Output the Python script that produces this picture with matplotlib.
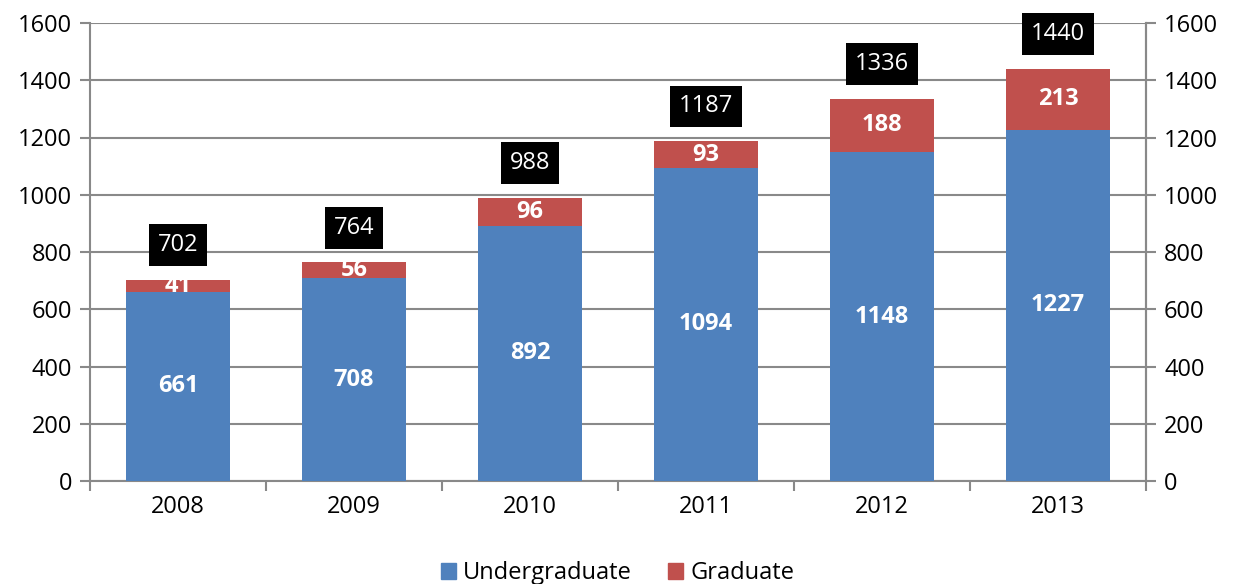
import numpy as np
import matplotlib.pyplot as plt
from matplotlib.patches import Patch

# Dane
years = ['2008', '2009', '2010', '2011', '2012', '2013']
undergrad = [661, 708, 892, 1094, 1148, 1227]
grad = [41, 56, 96, 93, 188, 213]
totals = [702, 764, 988, 1187, 1336, 1440]

blue = '#4F81BD'
red = '#C0504D'
gray = '#898989'
fs = 17

plt.rcParams['font.family'] = ['Open Sans', 'DejaVu Sans']

fig = plt.figure(figsize=(12.35, 5.84), dpi=100)
ax = fig.add_axes([90 / 1235, 103 / 584, 1056 / 1235, 458 / 584])

x = np.arange(len(years))
w = 0.59
ax.bar(x, undergrad, w, color=blue, zorder=3)
ax.bar(x, grad, w, bottom=undergrad, color=red, zorder=3)

for i in range(len(years)):
    ax.text(x[i], undergrad[i] / 2, str(undergrad[i]), ha='center', va='center',
            color='white', fontsize=fs, fontweight='bold', zorder=4)
    ax.text(x[i], undergrad[i] + grad[i] / 2, str(grad[i]), ha='center', va='center',
            color='white', fontsize=fs, fontweight='bold', zorder=4)
    ax.annotate(str(totals[i]), (x[i], totals[i]), xytext=(0, 25), textcoords='offset points',
                ha='center', va='center', color='white', fontsize=fs, zorder=5,
                bbox=dict(boxstyle='square,pad=0.38', fc='black', ec='none'))

ax.set_xlim(-0.5, len(years) - 0.5)
ax.set_ylim(0, 1600)
ax.set_yticks(range(0, 1601, 200))
ax.yaxis.grid(True, color=gray, linewidth=1.5, zorder=0)
ax.set_xticks(x)
ax.set_xticklabels(years, fontsize=fs)
ax.set_xticks(np.arange(-0.5, len(years)), minor=True)
ax.tick_params(axis='x', which='major', length=0, pad=10)
ax.tick_params(axis='x', which='minor', length=7, width=1.5, color=gray)
ax.tick_params(axis='y', length=7, width=1.5, color=gray, labelsize=fs, pad=6)
ax.spines['top'].set_visible(False)
for s in ['left', 'right', 'bottom']:
    ax.spines[s].set_color(gray)
    ax.spines[s].set_linewidth(1.5)

ax2 = ax.twinx()
ax2.set_ylim(0, 1600)
ax2.set_yticks(range(0, 1601, 200))
ax2.tick_params(axis='y', length=7, width=1.5, color=gray, labelsize=fs, pad=6)
for s in ['top', 'left', 'bottom']:
    ax2.spines[s].set_visible(False)
ax2.spines['right'].set_color(gray)
ax2.spines['right'].set_linewidth(1.5)

handles = [Patch(color=blue, label='Undergraduate'), Patch(color=red, label='Graduate')]
fig.legend(handles=handles, loc='center', bbox_to_anchor=(0.5, 11 / 584), ncol=2,
           frameon=False, fontsize=fs, handlelength=0.65, handleheight=0.65,
           handletextpad=0.3, columnspacing=1.5, borderpad=0)

fig.savefig('out.png', dpi=100)
